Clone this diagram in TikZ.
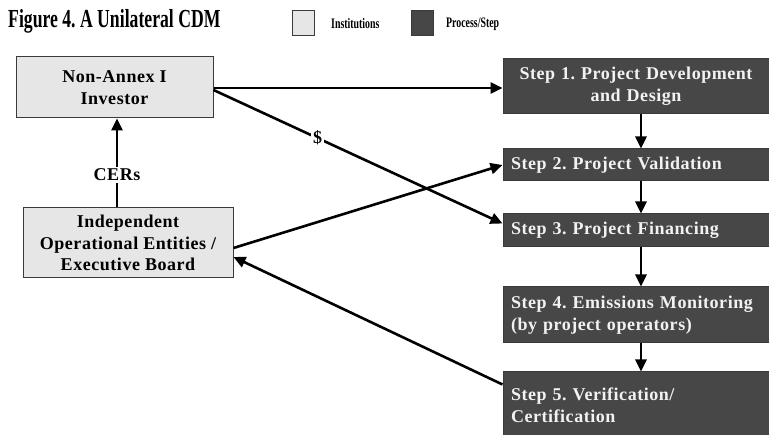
\documentclass[tikz,border=0pt]{standalone}
\usepackage{fontspec}
\setmainfont{Liberation Serif}
\newfontfamily\condfont{Liberation Serif}[FakeStretch=0.68]
\newfontfamily\boxfont{Liberation Serif}[LetterSpace=3]
\usetikzlibrary{arrows.meta}
\definecolor{lightbox}{HTML}{E6E6E6}
\definecolor{darkbox}{HTML}{474747}
\definecolor{boxline}{HTML}{3A3A3A}
\definecolor{steptext}{HTML}{F2F2F2}
\frenchspacing
\begin{document}
\begin{tikzpicture}[x=1pt,y=-1pt,
  inst/.style={draw=boxline,fill=lightbox,line width=1pt,inner sep=0pt,
    font=\boxfont\bfseries\fontsize{18}{21.5}\selectfont,align=center,text=black},
  stepbox/.style={draw=boxline,fill=darkbox,line width=1pt,inner sep=0pt,
    minimum width=266pt,text width=250pt,
    font=\boxfont\bfseries\fontsize{18}{22}\selectfont,text=steptext},
  conn/.style={line width=2.6pt,-{Triangle[length=12pt,width=11pt]}},
  lab/.style={fill=white,inner sep=2pt,font=\boxfont\bfseries\fontsize{18}{20}\selectfont}]
\useasboundingbox (0,0) rectangle (769,435);
% title and legend
\node[anchor=west,inner sep=0pt,font=\condfont\bfseries\fontsize{26}{28}\selectfont] (title) at (8,21) {Figure 4. A Unilateral CDM};
\node[draw=boxline,fill=lightbox,line width=1pt,minimum width=22pt,minimum height=25pt,inner sep=0pt] (leg1) at (303,23.5) {};
\node[anchor=west,inner sep=0pt,font=\condfont\bfseries\fontsize{14.5}{16}\selectfont] (leg1t) at (331,24) {Institutions};
\node[draw=boxline,fill=darkbox,line width=1pt,minimum width=22pt,minimum height=25pt,inner sep=0pt] (leg2) at (422,23.5) {};
\node[anchor=west,inner sep=0pt,font=\condfont\bfseries\fontsize{14.5}{16}\selectfont] (leg2t) at (446,24) {Process/Step};
% institutions
\node[inst,minimum width=197pt,minimum height=61pt] (nai) at (114.5,87.5) {Non-Annex I\\Investor};
\node[inst,minimum width=210pt,minimum height=70pt] (ioe) at (128,243) {Independent\\Operational Entities /\\Executive Board};
% steps
\node[stepbox,minimum height=55pt,align=center] (s1) at (636,86.5) {Step 1. Project Development\\and Design};
\node[stepbox,minimum height=32pt,align=left] (s2) at (636,165) {Step 2. Project Validation};
\node[stepbox,minimum height=33pt,align=left] (s3) at (636,230.5) {Step 3. Project Financing};
\node[stepbox,minimum height=56pt,align=left] (s4) at (636,315) {Step 4. Emissions Monitoring\\(by project operators)};
\node[stepbox,minimum height=66pt,align=left] (s5) at (636,405) {Step 5. Verification/\\Certification};
% step flow
\draw[conn] ([xshift=5pt]s1.south) -- ([xshift=5pt]s2.north);
\draw[conn] ([xshift=5pt]s2.south) -- ([xshift=5pt]s3.north);
\draw[conn] ([xshift=5pt]s3.south) -- ([xshift=5pt]s4.north);
\draw[conn] ([xshift=5pt]s4.south) -- ([xshift=5pt]s5.north);
% other connectors
\draw[conn] ([yshift=-0.5pt]nai.east) -- ([yshift=-0.5pt]nai.east -| s1.west);
\draw[conn] ([yshift=-2.5pt]nai.east) -- node[lab,pos=0.36]{\$} ([yshift=7pt]s3.west);
\draw[conn] ([yshift=-5pt]ioe.east) -- (s2.west);
\draw[conn] ([yshift=-13pt]s5.north west) -- ([yshift=-14pt]ioe.east);
\draw[conn] ([xshift=-11pt]ioe.north) -- node[lab,pos=0.37]{CERs} ([xshift=2.5pt]nai.south);
\end{tikzpicture}
\end{document}
